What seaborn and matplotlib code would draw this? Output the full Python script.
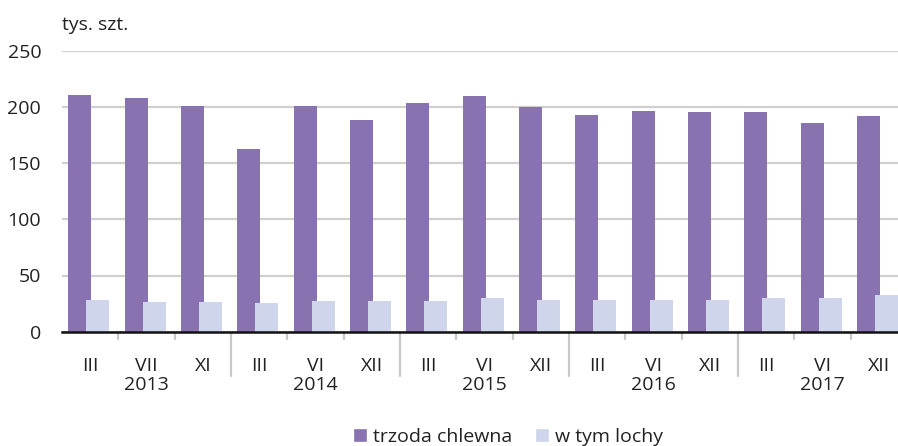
import pandas as pd
import seaborn as sns
import matplotlib.pyplot as plt
import matplotlib.transforms as mtransforms

# Data (thousand head)
years = ['2013', '2014', '2015', '2016', '2017']
months = ['III', 'VII', 'XI', 'III', 'VI', 'XII', 'III', 'VI', 'XII',
          'III', 'VI', 'XII', 'III', 'VI', 'XII']
pigs = [210.5, 207.8, 200.6, 162.4, 200.6, 188.2, 203.3, 209.5,
        199.7, 192.6, 196.2, 195.3, 195.3, 185.5, 191.7]
sows = [28.2, 26.4, 26.4, 25.5, 27.3, 27.3, 27.3, 30.0,
        28.2, 28.2, 28.2, 28.2, 30.0, 30.0, 32.6]
series_names = ['trzoda chlewna', 'w tym lochy']

period = [f'{i}' for i in range(len(months))]
df = pd.DataFrame({
    'period': period * 2,
    'value': pigs + sows,
    'series': [series_names[0]] * len(pigs) + [series_names[1]] * len(sows),
})

sns.set_theme(style='white')
plt.rcParams['font.family'] = ['Open Sans', 'DejaVu Sans']
text_color = '#222222'
fs = 14

fig = plt.figure(figsize=(8.98, 4.46), dpi=100)
ax = fig.add_axes([62 / 898, 1 - 331.7 / 446, 845 / 898, 281 / 446])

sns.barplot(data=df, x='period', y='value', hue='series', ax=ax,
            palette=['#8872b0', '#cfd5ea'], dodge=True, width=0.72,
            saturation=1, legend=True)

# overlap the two bars in each group
offsets = [(-0.39, 0.41), (-0.07, 0.41)]
for cont, (x0, w) in zip(ax.containers, offsets):
    for i, bar in enumerate(cont):
        bar.set_x(i + x0)
        bar.set_width(w)
        bar.set_edgecolor('none')

ax.set_xlim(-0.5, 14.5)
ax.set_ylim(0, 250)
ax.set_yticks(range(0, 251, 50))
ax.yaxis.grid(True, color='#d0d0d0', linewidth=1.6)
ax.set_axisbelow(True)
for s in ['top', 'right', 'left']:
    ax.spines[s].set_visible(False)
ax.spines['bottom'].set_color('#111111')
ax.spines['bottom'].set_linewidth(1.8)
ax.spines['bottom'].set_zorder(5)

ax.set_xticks(range(len(months)))
ax.set_xticklabels(months)
ax.tick_params(axis='x', length=0, pad=18.5, labelsize=fs, labelcolor=text_color)
ax.tick_params(axis='y', length=0, pad=15, labelsize=fs, labelcolor=text_color)
ax.set_xlabel('')
ax.set_ylabel('')

# separators under the axis
trans = mtransforms.blended_transform_factory(ax.transData, ax.transAxes)
for b in [0.5, 1.5, 3.5, 4.5, 6.5, 7.5, 9.5, 10.5, 12.5, 13.5]:
    ax.plot([b, b], [0, -0.025], color='#c8c8c8', lw=1.6,
            transform=trans, clip_on=False)
for b in [2.5, 5.5, 8.5, 11.5]:
    ax.plot([b, b], [0, -0.157], color='#c8c8c8', lw=1.6,
            transform=trans, clip_on=False)
for k, y in enumerate(years):
    ax.text(k * 3 + 1, -0.19, y, transform=trans, ha='center', va='center',
            fontsize=fs, color=text_color)

fig.text(62 / 898, 1 - 25 / 446, 'tys. szt.', ha='left', va='center',
         fontsize=fs, color=text_color)

handles, labels = ax.get_legend_handles_labels()
ax.legend(handles, labels, loc='center', bbox_to_anchor=(508 / 898, 1 - 437 / 446),
          bbox_transform=fig.transFigure, ncol=2, frameon=False,
          handlelength=0.7, handleheight=0.7, handletextpad=0.3,
          columnspacing=1.2, fontsize=fs, labelcolor=text_color)

plt.savefig('out.png', dpi=100)
